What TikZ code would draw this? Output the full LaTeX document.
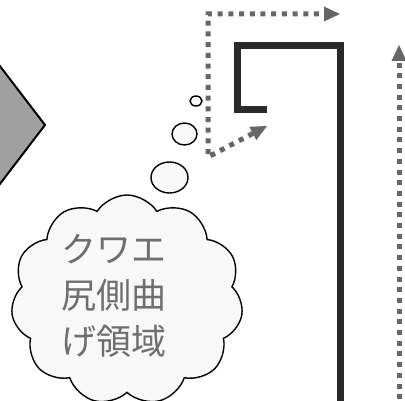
\documentclass[tikz,border=0pt]{standalone}
\usepackage{fontspec}
\newfontfamily\jpfont{Noto Sans CJK JP}
\usetikzlibrary{arrows.meta,shapes.symbols,shapes.geometric}
\definecolor{inkblack}{HTML}{2A2A2A}
\definecolor{dotgray}{HTML}{666666}
\definecolor{diamondgray}{HTML}{A0A0A0}
\definecolor{bubblefill}{HTML}{F8F8F8}
\definecolor{textgray}{HTML}{6E6E6E}
\tikzset{
  dottip/.tip={Triangle[length=16pt,width=15pt,fill=dotgray,line width=0pt]},
  dotline/.style={draw=dotgray, line width=5pt, dash pattern=on 5pt off 5.7pt, -dottip},
  dotboth/.style={draw=dotgray, line width=5pt, dash pattern=on 5pt off 5.7pt, dottip-dottip},
  thickline/.style={draw=inkblack, line width=7pt, line join=miter},
  bubble/.style={draw=black, fill=bubblefill, line width=1.4pt, ellipse, inner sep=0pt},
  thought/.style={draw=black, fill=bubblefill, line width=1.4pt, cloud, cloud puffs=11, cloud puff arc=115, inner sep=0pt},
  cloudtext/.style={text=textgray, font=\jpfont\fontsize{35pt}{46pt}\selectfont, align=left, inner sep=0pt}
}
\begin{document}
\begin{tikzpicture}[x=1pt,y=-1pt]
\useasboundingbox (0,0) rectangle (405,401);
\begin{scope}
\clip (0,0) rectangle (405,401);
% diamond
\draw[fill=diamondgray, draw=black, line width=2pt] (-20,40) -- (45,125) -- (-20,210) -- (-85,125) -- cycle;
% thick black bracket
\coordinate (b1) at (267,109.5);
\coordinate (b2) at (237.5,109.5);
\coordinate (b3) at (237.5,45.5);
\coordinate (b4) at (340.5,45.5);
\coordinate (b5) at (340.5,410);
\draw[thickline] (b1) -- (b2) -- (b3) -- (b4) -- (b5);
% dotted path top-left
\coordinate (d1) at (267,126);
\coordinate (d2) at (208,157);
\coordinate (d3) at (208,14);
\coordinate (d4) at (340,14);
\draw[dotboth] (d1) -- (d2) -- (d3) -- (d4);
% right dotted arrow
\coordinate (r1) at (399,410);
\coordinate (r2) at (399,45);
\draw[dotline] (r1) -- (r2);
% thought bubbles
\node[bubble, minimum width=12pt, minimum height=10pt] (s1) at (196,101) {};
\node[bubble, minimum width=25pt, minimum height=22pt] (s2) at (184.5,134) {};
\node[bubble, minimum width=37pt, minimum height=31pt] (s3) at (169.5,177.5) {};
\node[thought, minimum width=232pt, minimum height=210pt] (c) at (127,300) {};
\node[cloudtext, anchor=north west] (t) at (61,234) {クワエ\\尻側曲\\げ領域};
\end{scope}
\end{tikzpicture}
\end{document}
